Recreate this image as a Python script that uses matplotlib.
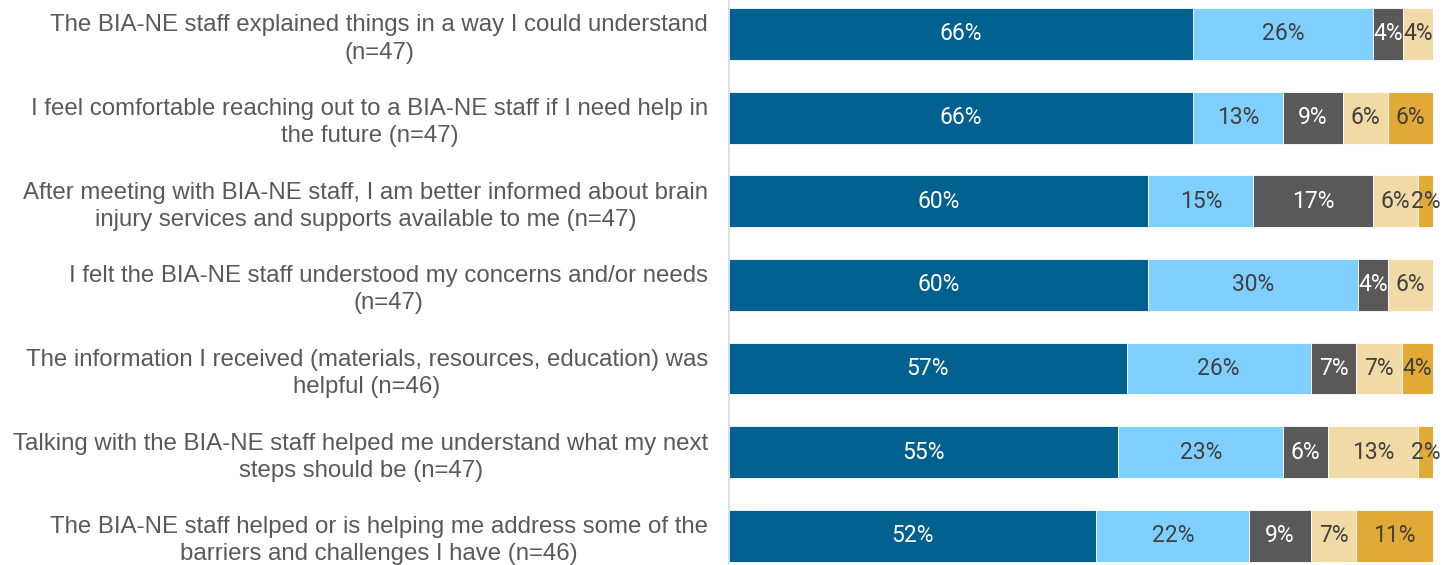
import matplotlib.pyplot as plt
import numpy as np

questions = [
    "The BIA-NE staff explained things in a way I could understand\n(n=47)",
    "I feel comfortable reaching out to a BIA-NE staff if I need help in\nthe future (n=47)",
    "After meeting with BIA-NE staff, I am better informed about brain\ninjury services and supports available to me (n=47)",
    "I felt the BIA-NE staff understood my concerns and/or needs\n(n=47)",
    "The information I received (materials, resources, education) was\nhelpful (n=46)",
    "Talking with the BIA-NE staff helped me understand what my next\nsteps should be (n=47)",
    "The BIA-NE staff helped or is helping me address some of the\nbarriers and challenges I have (n=46)",
]
n_resp = [47, 47, 47, 47, 46, 47, 46]

# response counts per answer category
cat1 = [31, 31, 28, 28, 26, 26, 24]
cat2 = [12, 6, 7, 14, 12, 11, 10]
cat3 = [2, 4, 8, 2, 3, 3, 4]
cat4 = [2, 3, 3, 3, 3, 6, 3]
cat5 = [0, 3, 1, 0, 2, 1, 5]

colors = ["#00608F", "#80D0FF", "#595959", "#F2DAA6", "#E1AA36"]
text_colors = ["white", "#404040", "white", "#404040", "#404040"]

W, H = 1456, 565
fig = plt.figure(figsize=(W / 100, H / 100), dpi=100)
ax = fig.add_axes([729 / W, 0, (1433 - 729) / W, 1])

counts = np.array([cat1, cat2, cat3, cat4, cat5], dtype=float)
pct = counts / np.array(n_resp) * 100
y = np.arange(len(questions))

left = np.zeros(len(questions))
for i in range(5):
    ax.barh(y, pct[i], left=left, height=0.62, color=colors[i],
            edgecolor="white", linewidth=0.6)
    for j in range(len(questions)):
        if pct[i][j] > 0:
            ax.text(left[j] + pct[i][j] / 2, y[j], f"{pct[i][j]:.0f}%",
                    ha="center", va="center", color=text_colors[i],
                    fontsize=16.5, family="Roboto")
    left += pct[i]

ax.set_xlim(0, 100)
ax.set_ylim(6.35, -0.406)
ax.set_yticks(y)
ax.set_yticklabels(questions, fontsize=17.3, color="#595959",
                   family="Liberation Sans", linespacing=1.3)
for lab in ax.get_yticklabels():
    lab.set_multialignment("center")
ax.tick_params(axis="y", length=0, pad=15)
ax.set_xticks([])
for s in ["top", "right", "bottom"]:
    ax.spines[s].set_visible(False)
ax.spines["left"].set_color("#d9d9d9")
ax.spines["left"].set_linewidth(1.2)

fig.savefig("out.png", dpi=100)
